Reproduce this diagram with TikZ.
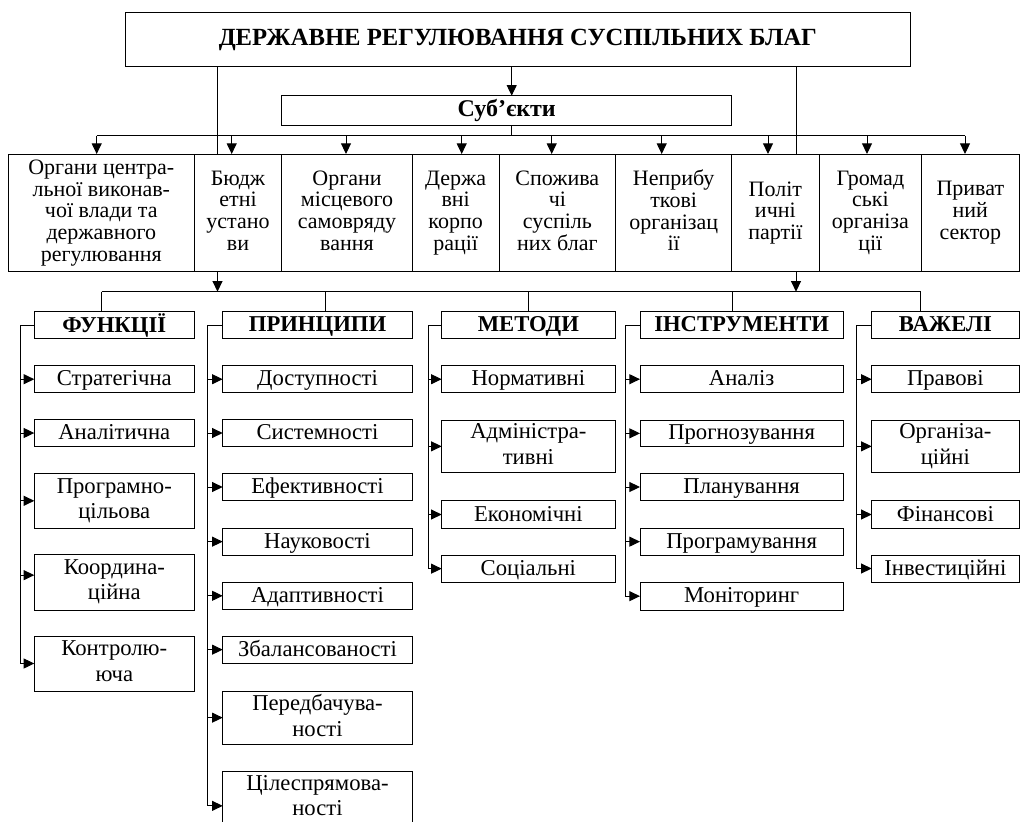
\documentclass[tikz,border=0pt]{standalone}
\usepackage{fontspec}
\setmainfont{Liberation Serif}
\usetikzlibrary{arrows.meta}
\newcommand\Bx[7]{\node[#1, minimum width={(#5-#3)*0.75pt}, minimum height={(#6-#4)*0.75pt}] (#2) at ({(#3+#5)/2},{(#4+#6)/2}) {#7};}
\newcommand\TopStrut{\rule{0pt}{13.4pt}}
\newcommand\SubStrut{\rule{0pt}{20pt}}
\newcommand\BotStrut{\rule[-3.6pt]{0pt}{3.6pt}}
\begin{document}
\begin{tikzpicture}[x=0.75pt,y=-0.75pt,
  ln/.style={draw=black, line width=0.75pt},
  arr/.style={ln, -{Triangle[length=8pt,width=7.5pt]}},
  bx/.style={draw=black, line width=0.75pt, fill=white, inner sep=0pt, outer sep=0pt, align=center,
    font=\fontsize{17}{19.2}\selectfont,
    execute at begin node=\TopStrut, execute at end node=\BotStrut},
  sub/.style={bx, font=\fontsize{16.5}{16.3}\selectfont, execute at begin node=\SubStrut},
  hd/.style={bx, font=\fontsize{17}{19}\selectfont\bfseries},
  sbj/.style={bx, font=\fontsize{18}{19}\selectfont\bfseries},
  ttl/.style={bx, font=\fontsize{18.5}{19}\selectfont\bfseries}]
\useasboundingbox (0,0) rectangle (1020,821);

% title and subjects header
\Bx{ttl}{T}{125}{12.3}{910.7}{66}{ДЕРЖАВНЕ РЕГУЛЮВАННЯ СУСПІЛЬНИХ БЛАГ}
\Bx{sbj}{S}{281.7}{95.7}{731.7}{125}{Суб’єкти}
\coordinate (c1) at (511.7,0);
\draw[arr] (c1 |- T.south) -- (c1 |- S.north);

% subject row
\Bx{sub}{s1}{8.3}{154}{194.3}{271.7}{Органи центра-\\льної виконав-\\чої влади та\\державного\\регулювання}
\Bx{sub}{s2}{194.3}{154}{281.7}{271.7}{Бюдж\\етні\\устано\\ви}
\Bx{sub}{s3}{281.7}{154}{412.3}{271.7}{Органи\\місцевого\\самовряду\\вання}
\Bx{sub}{s4}{412.3}{154}{499}{271.7}{Держа\\вні\\корпо\\рації}
\Bx{sub}{s5}{499}{154}{615.7}{271.7}{Спожива\\чі\\суспіль\\них благ}
\Bx{sub}{s6}{615.7}{154}{731.7}{271.7}{Неприбу\\ткові\\організац\\ії}
\Bx{sub}{s7}{731.7}{154}{819}{271.7}{Політ\\ичні\\партії}
\Bx{sub}{s8}{819}{154}{921.7}{271.7}{Громад\\ські\\організа\\ції}
\Bx{sub}{s9}{921.7}{154}{1019}{271.7}{Приват\\ний\\сектор}

% upper bus
\coordinate (ua) at (96.7,135.7);
\coordinate (ub) at (965,135.7);
\draw[ln] (c1 |- S.south) -- (c1 |- ua);
\draw[ln] (ua) -- (ub);
\foreach \x/\n in {96.7/s1,231.7/s2,346/s3,461.7/s4,551.7/s5,661.7/s6,768/s7,867/s8,965/s9}
  \draw[arr] (\x,135.7) -- (\x,0 |- \n.north);

% side lines from title
\coordinate (la) at (101.7,291.7);
\coordinate (lb) at (920.7,291.7);
\draw[ln] (217.5,0 |- T.south) -- (217.5,0 |- s2.north);
\draw[arr] (217.5,0 |- s2.south) -- (217.5,0 |- la);
\draw[ln] (796,0 |- T.south) -- (796,0 |- s7.north);
\draw[arr] (796,0 |- s7.south) -- (796,0 |- la);

% category headers
\Bx{hd}{H1}{34.3}{311.7}{194.3}{338.5}{ФУНКЦІЇ}
\Bx{hd}{H2}{222.7}{311.7}{412.3}{338.5}{ПРИНЦИПИ}
\Bx{hd}{H3}{441.7}{311.7}{615}{338.5}{МЕТОДИ}
\Bx{hd}{H4}{640}{311.7}{843.3}{338.5}{ІНСТРУМЕНТИ}
\Bx{hd}{H5}{871.7}{311.7}{1019}{338.5}{ВАЖЕЛІ}

% lower bus
\draw[ln] (la) -- (lb);
\foreach \x/\n in {101.7/H1,325/H2,528.3/H3,732.3/H4,920.7/H5}
  \draw[ln] (\x,291.7) -- (\x,0 |- \n.north);

% ФУНКЦІЇ
\Bx{bx}{F1}{34.3}{365.7}{194.3}{392.7}{Стратегічна}
\Bx{bx}{F2}{34.3}{419.3}{194.3}{446.7}{Аналітична}
\Bx{bx}{F3}{34.3}{473.3}{194.3}{528.3}{Програмно-\\цільова}
\Bx{bx}{F4}{34.3}{554.3}{194.3}{610}{Координа-\\ційна}
\Bx{bx}{F5}{34.3}{636}{194.3}{691}{Контролю-\\юча}
\coordinate (vf) at (20,0);
\coordinate (f4a) at ([yshift=5.25pt]F4.west);
\draw[ln] (H1.west) -- (vf |- H1.west) -- (vf |- F5.west);
\foreach \n in {F1,F2,F3,F5} \draw[arr] (vf |- \n.west) -- (\n.west);
\draw[arr] (vf |- f4a) -- (f4a);

% ПРИНЦИПИ
\Bx{bx}{P1}{222.7}{365.7}{412.3}{392.7}{Доступності}
\Bx{bx}{P2}{222.7}{419.3}{412.3}{446.7}{Системності}
\Bx{bx}{P3}{222.7}{473.3}{412.3}{500.7}{Ефективності}
\Bx{bx}{P4}{222.7}{528.3}{412.3}{555}{Науковості}
\Bx{bx}{P5}{222.7}{582.3}{412.3}{609.3}{Адаптивності}
\Bx{bx}{P6}{222.7}{636}{412.3}{663.3}{Збалансованості}
\Bx{bx}{P7}{222.7}{691}{412.3}{744.3}{Передбачува-\\ності}
\Bx{bx}{P8}{222.7}{771.7}{412.3}{824}{Цілеспрямова-\\ності}
\coordinate (vp) at (207,0);
\coordinate (p8a) at ([yshift=-6pt]P8.west);
\draw[ln] (H2.west) -- (vp |- H2.west) -- (vp |- p8a);
\foreach \n in {P1,P2,P3,P4,P5,P6,P7} \draw[arr] (vp |- \n.west) -- (\n.west);
\draw[arr] (vp |- p8a) -- (p8a);

% МЕТОДИ
\Bx{bx}{M1}{441.7}{365.7}{615}{392.7}{Нормативні}
\Bx{bx}{M2}{441.7}{420}{615}{472.7}{Адміністра-\\тивні}
\Bx{bx}{M3}{441.7}{500.7}{615}{528.3}{Економічні}
\Bx{bx}{M4}{441.7}{555}{615}{582.3}{Соціальні}
\coordinate (vm) at (428.3,0);
\draw[ln] (H3.west) -- (vm |- H3.west) -- (vm |- M4.west);
\foreach \n in {M1,M2,M3,M4} \draw[arr] (vm |- \n.west) -- (\n.west);

% ІНСТРУМЕНТИ
\Bx{bx}{I1}{640}{365.7}{843.3}{392.7}{Аналіз}
\Bx{bx}{I2}{640}{420}{843.3}{446.7}{Прогнозування}
\Bx{bx}{I3}{640}{473.3}{843.3}{500.7}{Планування}
\Bx{bx}{I4}{640}{528.3}{843.3}{555}{Програмування}
\Bx{bx}{I5}{640}{582.3}{843.3}{610}{Моніторинг}
\coordinate (vi) at (625,0);
\draw[ln] (H4.west) -- (vi |- H4.west) -- (vi |- I5.west);
\foreach \n in {I1,I2,I3,I4,I5} \draw[arr] (vi |- \n.west) -- (\n.west);

% ВАЖЕЛІ
\Bx{bx}{V1}{871.7}{365.7}{1019}{392.7}{Правові}
\Bx{bx}{V2}{871.7}{420}{1019}{472.7}{Організа-\\ційні}
\Bx{bx}{V3}{871.7}{500.7}{1019}{528.3}{Фінансові}
\Bx{bx}{V4}{871.7}{555}{1019}{582}{Інвестиційні}
\coordinate (vv) at (856.7,0);
\draw[ln] (H5.west) -- (vv |- H5.west) -- (vv |- V4.west);
\foreach \n in {V1,V2,V3,V4} \draw[arr] (vv |- \n.west) -- (\n.west);
\end{tikzpicture}
\end{document}
